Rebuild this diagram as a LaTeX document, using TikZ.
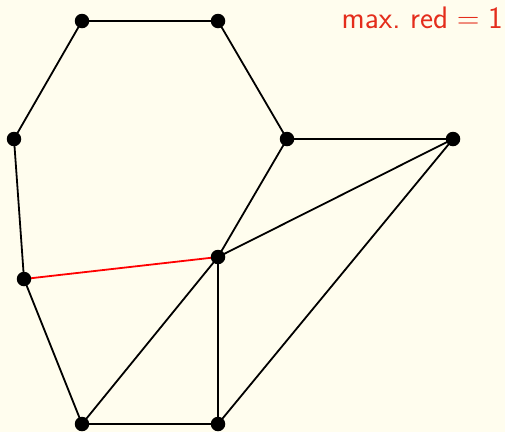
\documentclass[tikz,border=0pt]{standalone}
\usepackage{graphicx}
\begin{document}
\begin{tikzpicture}[x=1pt,y=-1pt,
  vtx/.style={circle,fill=black,inner sep=0pt,minimum size=14.5pt},
  edge/.style={line width=1.8pt,black},
  rededge/.style={line width=1.8pt,red}]
\definecolor{bgc}{RGB}{255,253,238}
\definecolor{lbl}{RGB}{228,45,28}
\fill[bgc] (0,0) rectangle (505,432);
\useasboundingbox (0,0) rectangle (505,432);
\coordinate (A) at (82,21);
\coordinate (B) at (218,21);
\coordinate (C) at (287,139);
\coordinate (D) at (453,139);
\coordinate (E) at (14,139);
\coordinate (F) at (24,279);
\coordinate (G) at (218,257);
\coordinate (H) at (82,424);
\coordinate (I) at (218,424);
\draw[edge] (A) -- (B);
\draw[edge] (B) -- (C);
\draw[edge] (C) -- (D);
\draw[edge] (A) -- (E);
\draw[edge] (E) -- (F);
\draw[edge] (C) -- (G);
\draw[edge] (G) -- (D);
\draw[edge] (F) -- (H);
\draw[edge] (H) -- (I);
\draw[edge] (H) -- (G);
\draw[edge] (G) -- (I);
\draw[edge] (I) -- (D);
\draw[rededge] (F) -- (G);
\foreach \n in {A,B,C,D,E,F,G,H,I} \node[vtx] (v\n) at (\n) {};
\node[anchor=base east,text=lbl,inner sep=0pt] (L) at (503,28) {\scalebox{1.8}{\fontsize{17.28}{20}\selectfont\sffamily max.\ red\;=\;1}};
\end{tikzpicture}
\end{document}
